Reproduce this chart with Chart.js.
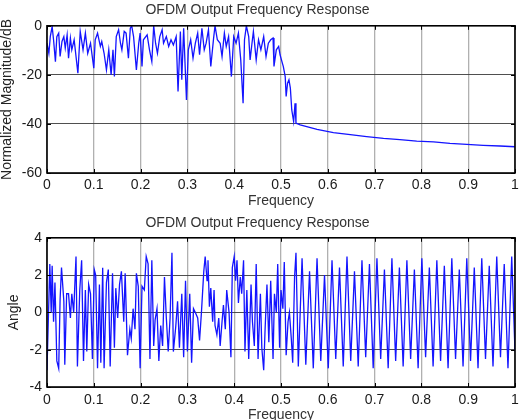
<!DOCTYPE html>
<html>
<head>
<meta charset="utf-8">
<script src="https://cdn.jsdelivr.net/npm/chart.js@4/dist/chart.umd.min.js"></script>
<style>
  html, body { margin: 0; padding: 0; background: #fff; overflow: hidden; width: 525px; height: 420px; }
  #c1 { position: absolute; left: 0; top: 0; }
  #c2 { position: absolute; left: 0; top: 210px; }
</style>
</head>
<body>
<canvas id="c1" width="525" height="210"></canvas>
<canvas id="c2" width="525" height="214"></canvas>
<script>
// ---- data ----
const chartTitle = 'OFDM Output Frequency Response';
const xLabel = 'Frequency';
const magLabel = 'Normalized Magnitude/dB';
const phaseLabel = 'Angle';

const magFreq = [0.000,0.004,0.007,0.011,0.014,0.018,0.021,0.025,0.028,0.032,0.036,0.039,0.043,0.046,0.050,0.053,0.058,0.066,0.071,0.077,0.082,0.087,0.093,0.100,0.103,0.108,0.114,0.117,0.122,0.127,0.132,0.137,0.141,0.144,0.148,0.153,0.157,0.160,0.165,0.169,0.174,0.178,0.181,0.185,0.191,0.196,0.199,0.203,0.206,0.214,0.219,0.224,0.228,0.232,0.236,0.241,0.246,0.249,0.255,0.260,0.265,0.270,0.276,0.280,0.285,0.288,0.292,0.298,0.302,0.307,0.312,0.317,0.322,0.326,0.331,0.336,0.340,0.345,0.350,0.356,0.359,0.364,0.370,0.374,0.379,0.383,0.388,0.394,0.399,0.404,0.409,0.414,0.419,0.422,0.426,0.431,0.434,0.438,0.441,0.447,0.452,0.457,0.463,0.468,0.473,0.478,0.483,0.485,0.490,0.495,0.498,0.502,0.505,0.509,0.511,0.514,0.517,0.520,0.523,0.527,0.530,0.532,0.536,0.541,0.577,0.612,0.648,0.683,0.719,0.754,0.790,0.826,0.861,0.897,0.932,0.968,1.000];
const magDb = [-7.1,-11.2,-4.4,-0.3,-5.7,-14.6,-4.4,-3.0,-12.5,-6.4,-4.4,-9.1,-3.7,-13.2,-5.0,-9.8,-5.7,-19.3,-2.3,-9.8,-3.0,-11.2,-7.1,-17.3,-5.7,-3.0,-8.4,-6.4,-11.2,-18.0,-9.8,-20.0,-9.8,-20.7,-4.4,-1.6,-7.1,-9.8,-2.3,-3.0,-13.2,-1.0,0,-4.4,-18.0,-7.1,-3.0,-16.6,-5.7,-3.7,-9.8,-14.6,0,-7.1,-11.2,-4.4,-1.6,-7.1,-4.4,-8.4,-5.7,-7.8,-4.4,-26.8,-2.3,-22.0,-1.0,-30.2,-9.8,-5.7,-13.2,-7.1,-3.0,-11.8,-1.0,-9.8,-7.1,-1.6,-16.6,-5.0,0,-5.7,-7.1,-12.5,-3.0,-8.4,-4.4,-20.7,-4.4,-7.1,-3.0,-13.9,-31.6,-5.7,0,-4.4,-13.9,-7.1,-2.3,-13.9,-5.7,-9.8,-4.4,-12.5,-7.1,-5.7,-5.0,-16.6,-9.8,-8.4,-11.8,-14.6,-16.6,-20.7,-28.8,-23.4,-22.0,-25.4,-34.3,-39.0,-31.6,-39.7,-40.0,-40.4,-42.2,-43.5,-44.4,-45.2,-45.9,-46.4,-47.0,-47.3,-47.9,-48.3,-48.7,-49.0,-49.3];

const phaseFreq = [0.000,0.006,0.009,0.011,0.014,0.017,0.021,0.025,0.028,0.031,0.036,0.038,0.042,0.046,0.050,0.053,0.057,0.062,0.065,0.070,0.074,0.078,0.082,0.085,0.089,0.093,0.097,0.101,0.104,0.108,0.112,0.115,0.119,0.122,0.127,0.131,0.135,0.140,0.144,0.147,0.151,0.155,0.159,0.164,0.167,0.172,0.177,0.180,0.184,0.188,0.191,0.195,0.199,0.203,0.208,0.212,0.216,0.220,0.224,0.228,0.231,0.235,0.239,0.243,0.247,0.251,0.255,0.259,0.263,0.267,0.270,0.275,0.279,0.283,0.288,0.292,0.296,0.300,0.305,0.309,0.313,0.317,0.322,0.326,0.330,0.335,0.338,0.342,0.344,0.347,0.350,0.354,0.357,0.359,0.363,0.367,0.370,0.374,0.377,0.381,0.384,0.389,0.393,0.396,0.400,0.403,0.406,0.409,0.413,0.416,0.420,0.423,0.427,0.431,0.436,0.439,0.443,0.447,0.451,0.456,0.459,0.463,0.466,0.470,0.474,0.478,0.483,0.486,0.490,0.493,0.497,0.500,0.504,0.507,0.511,0.515,0.518,0.522,0.525,0.529,0.532,0.537,0.545,0.553,0.561,0.569,0.577,0.585,0.593,0.601,0.609,0.617,0.625,0.633,0.641,0.649,0.657,0.665,0.673,0.681,0.689,0.697,0.705,0.713,0.721,0.729,0.737,0.745,0.753,0.761,0.769,0.777,0.785,0.793,0.801,0.809,0.817,0.825,0.833,0.841,0.849,0.857,0.865,0.873,0.881,0.889,0.897,0.905,0.913,0.921,0.929,0.937,0.945,0.953,0.961,0.969,0.977,0.985,0.993,1.000];
const phaseAngle = [-3.1,2.6,0.0,2.5,-0.5,1.6,-2.6,-3.0,0.7,2.4,0.6,-2.8,1.0,1.0,-0.3,1.0,0.0,3.0,-2.9,1.2,2.8,-2.6,1.2,-2.1,1.5,1.0,-2.5,2.3,2.0,-3.0,1.5,-2.7,2.4,-3.0,1.6,2.3,-2.9,2.1,-1.9,1.3,-0.3,1.5,2.2,-0.5,2.1,-2.3,-0.9,-1.4,0.2,-0.9,2.1,1.4,-3.0,1.4,1.2,3.0,2.6,-2.5,2.8,-1.8,-0.4,0.2,-2.6,-0.7,-1.8,1.9,-0.3,-2.1,-0.3,3.2,-2.1,-0.8,0.6,-1.9,1.0,-2.4,1.7,-2.1,1.0,-2.7,0.2,0.0,-0.3,-1.5,0.0,2.2,3.0,1.7,2.8,0.3,1.3,-0.5,1.2,-0.7,-1.2,-0.3,-1.8,-0.5,0.4,-0.9,1.2,0.0,-2.4,2.4,3.0,1.7,2.8,0.5,1.9,1.0,2.8,-2.1,1.2,-2.5,1.5,-0.5,-1.8,2.6,-2.5,1.0,-1.9,-3.1,-0.9,1.5,-1.6,1.7,-2.5,1.0,0.0,2.6,-1.9,1.2,0.2,2.7,-2.3,-0.5,0.0,-1.4,-2.7,1.9,3.2,-2.9,2.9,-2.8,2.2,-3.0,2.9,-2.6,2.0,-3.0,2.8,-2.5,2.4,-2.9,3.0,-2.6,2.2,-2.9,2.8,-2.4,2.6,-3.0,2.9,-2.5,2.3,-3.0,2.9,-2.6,2.4,-2.9,2.8,-2.5,2.3,-3.0,2.9,-2.4,2.4,-2.9,2.8,-2.6,2.5,-3.0,2.9,-2.5,2.3,-2.9,2.9,-2.6,2.4,-3.0,2.9,-2.5,2.5,-2.9,3.0,-2.4,2.6,-3.0,3.0,-2.1];

const xTickStep = 0.1;
const magRange = [-60, 0], magStep = 20;
const phaseRange = [-4, 4], phaseStep = 2;

// ---- rendering ----
Chart.defaults.font.family = '"Liberation Sans", Arial, sans-serif';
Chart.defaults.font.size = 14;
Chart.defaults.color = '#1a1a1a';

const framePlugin = {
  id: 'frame',
  afterDatasetsDraw(chart) {
    const {ctx, chartArea: a, scales: {x, y}} = chart;
    ctx.save();
    ctx.strokeStyle = '#000';
    ctx.lineWidth = 1.6;
    ctx.strokeRect(a.left, a.top, a.right - a.left, a.bottom - a.top);
    ctx.lineWidth = 1;
    const seg = (x1, y1, x2, y2) => { ctx.beginPath(); ctx.moveTo(x1, y1); ctx.lineTo(x2, y2); ctx.stroke(); };
    x.ticks.forEach(t => {
      const px = Math.round(x.getPixelForValue(t.value)) + 0.5;
      seg(px, a.top, px, a.top + 4);
      seg(px, a.bottom, px, a.bottom - 4);
    });
    y.ticks.forEach(t => {
      const py = Math.round(y.getPixelForValue(t.value)) + 0.5;
      seg(a.left, py, a.left + 4, py);
      seg(a.right, py, a.right - 4, py);
    });
    ctx.restore();
  }
};

const fmtX = v => String(Math.round(v * 10) / 10);

function makeChart(id, xs, ys, range, step, yTitle, yTitlePad, titlePad, xTickPad) {
  const pts = xs.map((v, i) => ({x: v, y: ys[i]}));
  return new Chart(document.getElementById(id), {
    type: 'line',
    data: { datasets: [{ data: pts, borderColor: '#1414ff', borderWidth: 1.3, pointRadius: 0, tension: 0, fill: false }] },
    options: {
      responsive: false,
      animation: false,
      devicePixelRatio: 1,
      layout: { padding: { left: 0, right: 10, top: 0, bottom: 0 } },
      plugins: {
        legend: { display: false },
        tooltip: { enabled: false },
        title: { display: true, text: chartTitle, color: '#333', font: { size: 14, weight: 'normal' }, padding: titlePad }
      },
      scales: {
        x: {
          type: 'linear', min: 0, max: 1,
          ticks: { stepSize: xTickStep, padding: xTickPad, maxRotation: 0, color: '#1a1a1a', callback: fmtX },
          grid: { color: 'rgba(150,150,150,0.75)', lineWidth: 1.3, drawTicks: false },
          border: { display: false },
          title: { display: true, text: xLabel, color: '#333', padding: { top: 0, bottom: 0 } },
          afterFit(s) { s.height = 37; }
        },
        y: {
          min: range[0], max: range[1],
          ticks: { stepSize: step, padding: 5, color: '#1a1a1a' },
          grid: { color: 'rgba(60,60,60,0.9)', lineWidth: 1, drawTicks: false },
          border: { display: false },
          title: { display: true, text: yTitle, color: '#222', padding: yTitlePad },
          afterFit(s) { s.width = 47; }
        }
      }
    },
    plugins: [framePlugin]
  });
}

makeChart('c1', magFreq, magDb, magRange, magStep, magLabel, { top: -1, bottom: 0 }, { top: 2, bottom: 7 }, 4);
makeChart('c2', phaseFreq, phaseAngle, phaseRange, phaseStep, phaseLabel, { top: 6, bottom: 0 }, { top: 5, bottom: 6 }, 5);
</script>
</body>
</html>
